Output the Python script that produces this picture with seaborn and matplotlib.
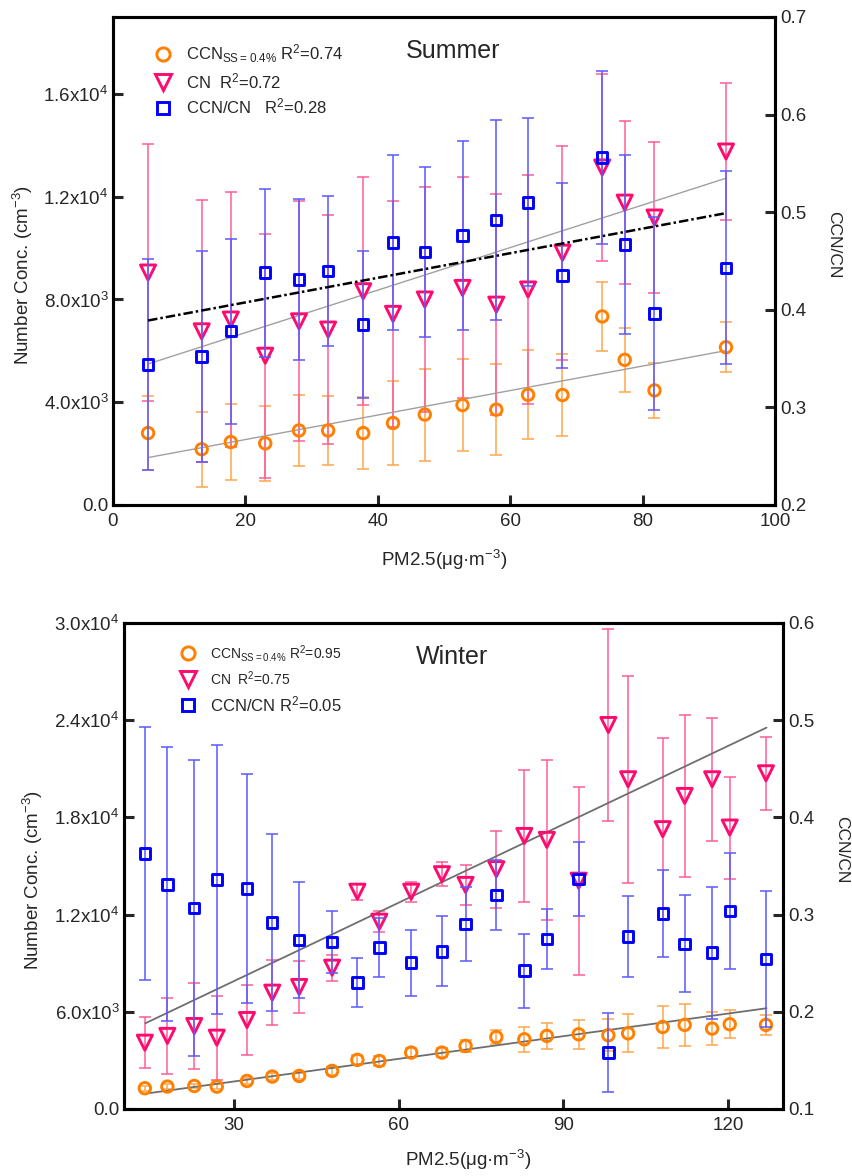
import numpy as np
import matplotlib
matplotlib.use("Agg")
import matplotlib.pyplot as plt
from matplotlib.lines import Line2D
from matplotlib.ticker import FixedLocator, FuncFormatter
import seaborn as sns

# ---------------- Summer (bin means ± SD) ----------------
pm_summer = [5.3, 13.4, 17.8, 23.0, 28.1, 32.5, 37.8, 42.3, 47.1, 52.8,
             57.9, 62.7, 67.9, 73.9, 77.3, 81.8, 92.6]
ccn_summer = [2800, 2170, 2450, 2400, 2900, 2900, 2800, 3190, 3520, 3890,
              3710, 4290, 4280, 7340, 5650, 4460, 6140]
ccn_summer_sd = [1430, 1460, 1470, 1450, 1400, 1330, 1400, 1650, 1790, 1800,
                 1760, 1730, 1590, 1350, 1250, 1070, 970]
cn_summer = [9050, 6760, 7220, 5810, 7150, 6830, 8320, 7440, 8000, 8450,
             7800, 8390, 9820, 13140, 11770, 11190, 13760]
cn_summer_sd = [5000, 5100, 4970, 4750, 4670, 4460, 4430, 4400, 4380, 4300,
                4290, 4460, 4160, 3650, 3160, 2950, 2665]
ratio_summer = [0.344, 0.352, 0.378, 0.438, 0.431, 0.440, 0.385, 0.469, 0.459,
                0.476, 0.492, 0.510, 0.435, 0.556, 0.467, 0.396, 0.443]
ratio_summer_sd = [0.108, 0.108, 0.095, 0.086, 0.082, 0.077, 0.075, 0.090,
                   0.087, 0.097, 0.102, 0.086, 0.095, 0.089, 0.092, 0.099, 0.099]

# linear fits (end points of each regression line)
fit_x_summer = [5.3, 92.6]
fit_ccn_summer = [1846, 6009]
fit_cn_summer = [5490, 12721]
fit_ratio_summer = [0.389, 0.499]

# ---------------- Winter (bin means ± SD) ----------------
pm_winter = [13.8, 17.9, 22.8, 26.9, 32.4, 37.0, 41.9, 47.9, 52.5, 56.5,
             62.3, 67.9, 72.2, 77.8, 82.9, 87.0, 92.8, 98.2, 101.8, 108.1,
             112.1, 117.1, 120.3, 126.9]
ccn_winter = [1280, 1380, 1420, 1380, 1730, 2000, 2040, 2350, 3030, 2960,
              3480, 3480, 3890, 4440, 4300, 4510, 4610, 4550, 4670, 5060,
              5190, 4960, 5230, 5190]
ccn_winter_sd = [150, 150, 150, 150, 180, 200, 200, 250, 300, 300,
                 300, 300, 350, 450, 770, 820, 900, 1000, 1180, 1300,
                 1300, 1030, 850, 620]
cn_winter = [4090, 4510, 5120, 4400, 5490, 7180, 7530, 8720, 13410, 11560,
             13410, 14490, 13830, 14800, 16850, 16610, 14090, 23700, 20350,
             17270, 19320, 20350, 17370, 20720]
cn_winter_sd = [1570, 2370, 2650, 2600, 2150, 2000, 1600, 800, 500, 650,
                620, 750, 1230, 2380, 4100, 4940, 5800, 5930, 6380, 5600,
                5000, 3800, 3150, 2250]
ratio_winter = [0.363, 0.331, 0.307, 0.336, 0.327, 0.292, 0.274, 0.272, 0.230,
                0.266, 0.2505, 0.262, 0.290, 0.320, 0.2423, 0.2749, 0.3363,
                0.158, 0.2773, 0.301, 0.270, 0.2608, 0.3037, 0.254]
ratio_winter_sd = [0.130, 0.141, 0.152, 0.138, 0.118, 0.091, 0.060, 0.032,
                   0.025, 0.030, 0.034, 0.036, 0.038, 0.036, 0.038, 0.031,
                   0.038, 0.041, 0.042, 0.045, 0.050, 0.068, 0.060, 0.070]

fit_x_winter = [13.9, 127.0]
fit_ccn_winter = [945, 6216]
fit_cn_winter = [5290, 23538]

# axis ticks
summer_xticks = [0, 20, 40, 60, 80, 100]
summer_yticks = [0, 4000, 8000, 12000, 16000]
summer_rticks = [0.2, 0.3, 0.4, 0.5, 0.6, 0.7]
winter_xticks = [30, 60, 90, 120]
winter_yticks = [0, 6000, 12000, 18000, 24000, 30000]
winter_rticks = [0.1, 0.2, 0.3, 0.4, 0.5, 0.6]

legend_summer = [r"CCN$_{SS=0.4\%}$ R$^2$=0.74", r"CN  R$^2$=0.72",
                 r"CCN/CN   R$^2$=0.28"]
legend_winter = [r"CCN$_{SS=0.4\%}$ R$^2$=0.95", r"CN  R$^2$=0.75",
                 r"CCN/CN R$^2$=0.05"]

# ---------------- style ----------------
sns.set_style("white")
plt.rcParams["font.family"] = ["Liberation Sans", "DejaVu Sans"]
plt.rcParams["mathtext.default"] = "regular"
plt.rcParams["axes.linewidth"] = 2.2

C_CCN = "#FF8000"
C_CN = "#FF0A6E"
C_RATIO = "#0000FF"
E_CCN = "#FFA64D"
E_CN = "#FF5C9A"
E_RATIO = "#5A5AFF"

TICK_FS = 13.5
LABEL_FS = 13.5
MEW = 2.1


def sci_label(v, pos=None):
    if v == 0:
        return "0.0"
    e = int(np.floor(np.log10(v) + 1e-9))
    return f"{v / 10 ** e:.1f}x10$^{{{e}}}$"


def one_decimal(v, pos=None):
    return f"{v:.1f}"


def draw_panel(fig, rect, pm, ccn, ccn_sd, cn, cn_sd, ratio, ratio_sd,
               fit_x, fit_ccn, fit_cn, fit_ratio, xlim, ylim, rlim,
               xticks, yticks, rticks, title, title_xy, fit_color, fit_lw,
               leg_labels, leg_anchor, leg_sizes, ylab_xy, rlab_xy, xlab_xy):
    ax = fig.add_axes(rect)
    ax2 = ax.twinx()

    # error bars
    ebkw = dict(fmt="none", elinewidth=1.1, capsize=4, capthick=1.1)
    ax.errorbar(pm, ccn, yerr=ccn_sd, ecolor=E_CCN, zorder=2, **ebkw)
    ax.errorbar(pm, cn, yerr=cn_sd, ecolor=E_CN, zorder=2, **ebkw)
    ax2.errorbar(pm, ratio, yerr=ratio_sd, ecolor=E_RATIO, zorder=2, **ebkw)

    # regression lines
    sns.lineplot(x=fit_x, y=fit_ccn, ax=ax, color=fit_color, linewidth=fit_lw,
                 zorder=3)
    sns.lineplot(x=fit_x, y=fit_cn, ax=ax, color=fit_color, linewidth=fit_lw,
                 zorder=3)
    if fit_ratio is not None:
        sns.lineplot(x=fit_x, y=fit_ratio, ax=ax2, color="black",
                     linewidth=1.8, linestyle=(0, (3.8, 1.2, 1.0, 1.2)),
                     zorder=3)

    # hollow markers
    sns.scatterplot(x=pm, y=ccn, ax=ax, marker="o", s=68, facecolor="none",
                    edgecolor=C_CCN, linewidth=MEW, zorder=4, legend=False)
    sns.scatterplot(x=pm, y=cn, ax=ax, marker="v", s=118, facecolor="none",
                    edgecolor=C_CN, linewidth=MEW, zorder=4, legend=False)
    sns.scatterplot(x=pm, y=ratio, ax=ax2, marker="s", s=56, facecolor="none",
                    edgecolor=C_RATIO, linewidth=MEW, zorder=4, legend=False)

    ax.set_xlim(*xlim)
    ax.set_ylim(*ylim)
    ax2.set_ylim(*rlim)

    ax.xaxis.set_major_locator(FixedLocator(xticks))
    ax.yaxis.set_major_locator(FixedLocator(yticks))
    ax.yaxis.set_major_formatter(FuncFormatter(sci_label))
    ax2.yaxis.set_major_locator(FixedLocator(rticks))
    ax2.yaxis.set_major_formatter(FuncFormatter(one_decimal))

    ax.tick_params(axis="both", direction="in", length=7, width=2.2,
                   labelsize=TICK_FS, top=False, right=False, left=True,
                   bottom=True)
    ax.tick_params(axis="x", pad=6)
    ax.tick_params(axis="y", pad=3)
    ax2.tick_params(axis="y", direction="in", length=7, width=2.2,
                    labelsize=TICK_FS, pad=4, right=True, left=False)
    for a in (ax, ax2):
        for sp in a.spines.values():
            sp.set_linewidth(2.2)
            sp.set_color("black")
            sp.set_visible(True)
    ax.grid(False)
    ax2.grid(False)

    ax.set_xlabel(r"PM2.5(μg·m$^{-3}$)", fontsize=LABEL_FS, va="center")
    ax.set_ylabel(r"Number Conc. (cm$^{-3}$)", fontsize=LABEL_FS, va="center")
    ax2.set_ylabel("CCN/CN", fontsize=12.5, rotation=270, va="center")
    ax.xaxis.set_label_coords(*xlab_xy)
    ax.yaxis.set_label_coords(*ylab_xy)
    ax2.yaxis.set_label_coords(*rlab_xy)

    ax.text(title_xy[0], title_xy[1], title, transform=ax.transAxes,
            ha="center", va="center", fontsize=18)

    handles = [
        Line2D([], [], marker="o", linestyle="none", markersize=9.5,
               markerfacecolor="none", markeredgecolor=C_CCN, markeredgewidth=MEW),
        Line2D([], [], marker="v", linestyle="none", markersize=11,
               markerfacecolor="none", markeredgecolor=C_CN, markeredgewidth=MEW),
        Line2D([], [], marker="s", linestyle="none", markersize=8,
               markerfacecolor="none", markeredgecolor=C_RATIO, markeredgewidth=MEW),
    ]
    leg = ax2.legend(handles, leg_labels, loc="upper left",
                     bbox_to_anchor=leg_anchor, frameon=False, borderpad=0,
                     borderaxespad=0, handlelength=1.0, handletextpad=0.85,
                     labelspacing=0.35, fontsize=12)
    for txt, fs in zip(leg.get_texts(), leg_sizes):
        txt.set_fontsize(fs)
    return ax, ax2


fig = plt.figure(figsize=(8.52, 11.76), dpi=100)

draw_panel(fig, [0.1326, 0.5706, 0.777, 0.415],
           pm_summer, ccn_summer, ccn_summer_sd, cn_summer, cn_summer_sd,
           ratio_summer, ratio_summer_sd,
           fit_x_summer, fit_ccn_summer, fit_cn_summer, fit_ratio_summer,
           xlim=(0, 100), ylim=(0, 19000), rlim=(0.2, 0.7),
           xticks=summer_xticks, yticks=summer_yticks, rticks=summer_rticks,
           title="Summer", title_xy=(0.514, 0.93),
           fit_color="#A0A0A0", fit_lw=1.0,
           leg_labels=legend_summer, leg_anchor=(0.063, 0.947),
           leg_sizes=[12, 12, 12],
           ylab_xy=(-0.136, 0.471), rlab_xy=(1.088, 0.533),
           xlab_xy=(0.5, -0.113))

draw_panel(fig, [0.1455, 0.0570, 0.7735, 0.4133],
           pm_winter, ccn_winter, ccn_winter_sd, cn_winter, cn_winter_sd,
           ratio_winter, ratio_winter_sd,
           fit_x_winter, fit_ccn_winter, fit_cn_winter, None,
           xlim=(10, 130), ylim=(0, 30000), rlim=(0.1, 0.6),
           xticks=winter_xticks, yticks=winter_yticks, rticks=winter_rticks,
           title="Winter", title_xy=(0.498, 0.93),
           fit_color="#6E6E6E", fit_lw=1.3,
           leg_labels=legend_winter, leg_anchor=(0.084, 0.959),
           leg_sizes=[10, 10, 12],
           ylab_xy=(-0.138, 0.471), rlab_xy=(1.089, 0.533),
           xlab_xy=(0.522, -0.105))

fig.savefig("out.png", dpi=100)
